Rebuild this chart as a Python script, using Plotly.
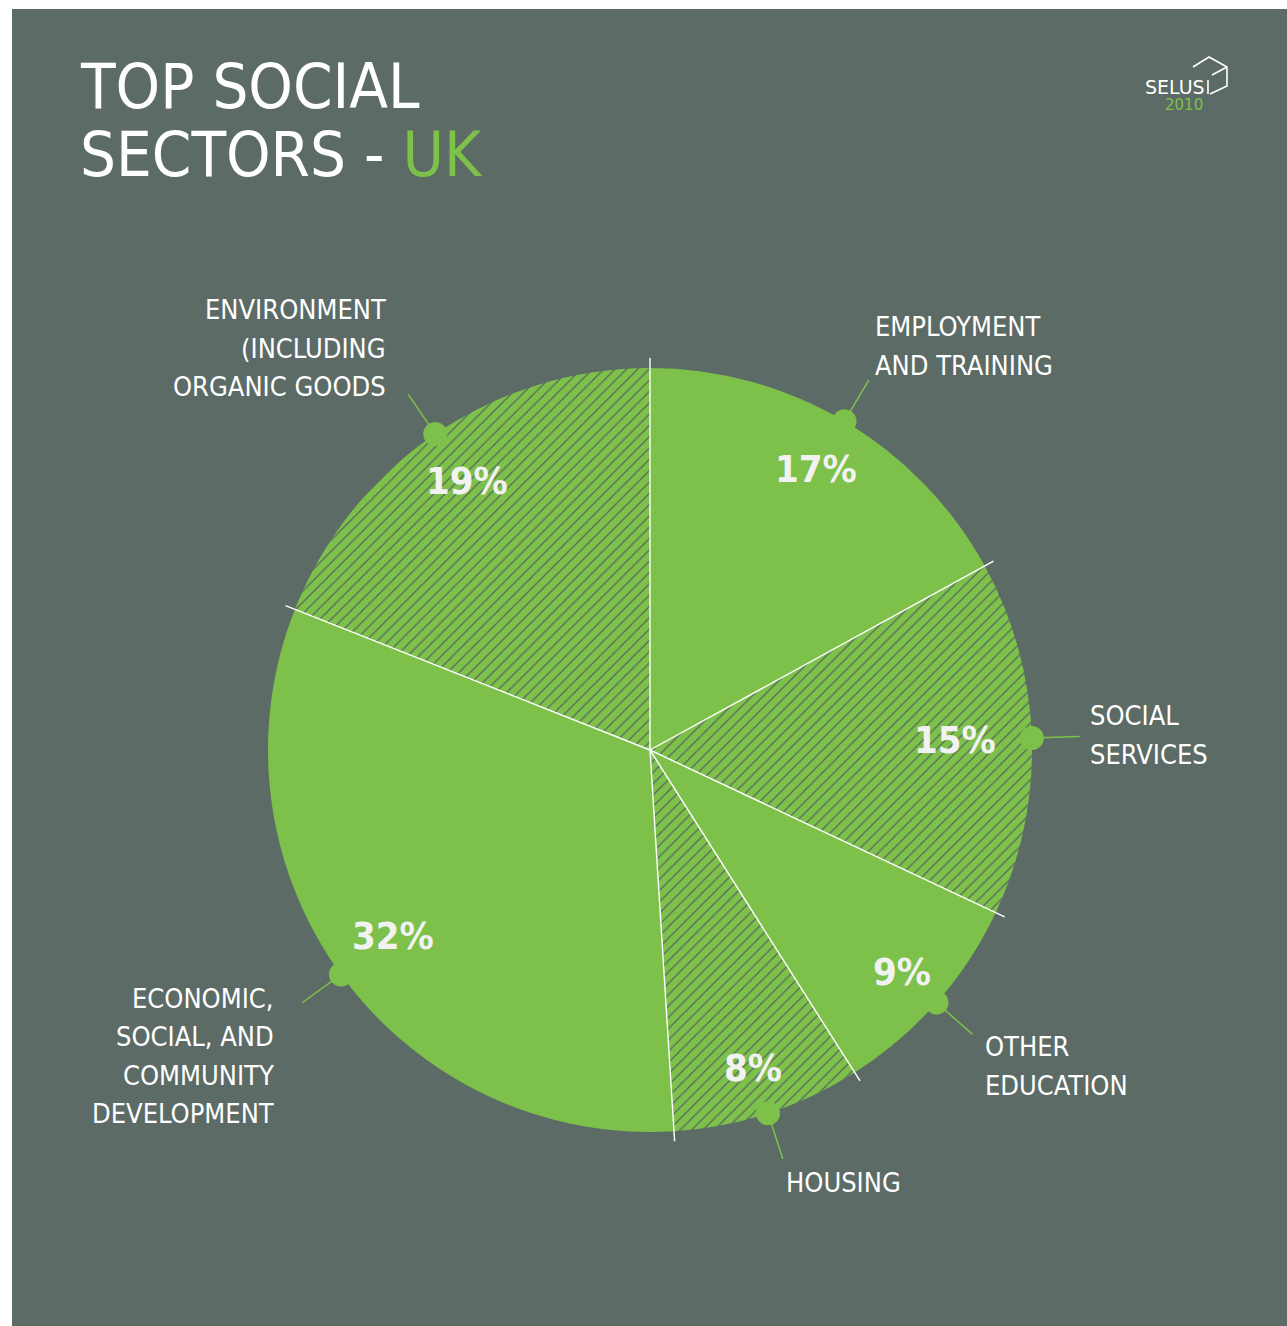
import math
import plotly.graph_objects as go

# Sector shares (%), clockwise from 12 o'clock
sectors = [
    "EMPLOYMENT<br>AND TRAINING",
    "SOCIAL<br>SERVICES",
    "OTHER<br>EDUCATION",
    "HOUSING",
    "ECONOMIC,<br>SOCIAL, AND<br>COMMUNITY<br>DEVELOPMENT",
    "ENVIRONMENT<br>(INCLUDING<br>ORGANIC GOODS",
]
shares = [17, 15, 9, 8, 32, 19]
hatched = [False, True, False, True, False, True]

W, H = 1287, 1326
BG = "#5c6b66"
GREEN = "#7dc14b"
FONT = "Liberation Sans Narrow, Arial Narrow, DejaVu Sans Condensed, sans-serif"

# pie geometry in pixels
CX, CY, R = 650, 750, 382

# label placement (pixel space): x, y of block centre, side
label_pos = [
    (873, 346, "left"),
    (1088, 735, "left"),
    (983, 1066, "left"),
    (784, 1182, "left"),
    (276, 1056, "right"),
    (388, 348, "right"),
]
LINE_STEP = 38.5
# radial position of the percentage text, as fraction of R
pct_radius = [0.855, 0.80, 0.88, 0.875, 0.83, 0.85]


def polar(theta_deg, r):
    t = math.radians(theta_deg)
    return CX + r * math.sin(t), CY - r * math.cos(t)


total = sum(shares)
cum = [0]
for v in shares:
    cum.append(cum[-1] + v)
bounds = [360 * c / total for c in cum[:-1]]
mids = [360 * (cum[i] + shares[i] / 2) / total for i in range(len(shares))]

fig = go.Figure()

fig.add_trace(go.Pie(
    values=shares,
    labels=[s.replace("<br>", " ") for s in sectors],
    sort=False,
    direction="clockwise",
    rotation=0,
    textinfo="none",
    hoverinfo="label+percent",
    showlegend=False,
    domain=dict(x=[(CX - R) / W, (CX + R) / W], y=[1 - (CY + R) / H, 1 - (CY - R) / H]),
    marker=dict(
        colors=[GREEN] * len(shares),
        line=dict(width=0),
        pattern=dict(
            shape=["/" if h else "" for h in hatched],
            fgcolor="#56645f",
            bgcolor=GREEN,
            size=8,
            solidity=0.15,
        ),
    ),
))

# invisible pixel-space axes for overlays
fig.add_trace(go.Scatter(x=[0, W], y=[0, H], mode="markers",
                         marker=dict(opacity=0), hoverinfo="skip", showlegend=False))

shapes = []
# panel background
shapes.append(dict(type="rect", xref="x", yref="y", x0=12, x1=W + 5, y0=9, y1=H + 5,
                   fillcolor=BG, line=dict(width=0), layer="below"))

# white separators between slices
for b in bounds:
    x1, y1 = polar(b, R + 10)
    shapes.append(dict(type="line", xref="x", yref="y", x0=CX, y0=CY, x1=x1, y1=y1,
                       line=dict(color="white", width=1.4), layer="above"))

# leader lines and edge dots
for m in mids:
    x0, y0 = polar(m, R)
    x1, y1 = polar(m, R + 48)
    shapes.append(dict(type="line", xref="x", yref="y", x0=x0, y0=y0, x1=x1, y1=y1,
                       line=dict(color=GREEN, width=1.5), layer="above"))
    shapes.append(dict(type="circle", xref="x", yref="y", x0=x0 - 12, x1=x0 + 12,
                       y0=y0 - 12, y1=y0 + 12, fillcolor=GREEN, line=dict(width=0),
                       layer="above"))

# logo cube outline
cube = "M 1193 67 L 1209 57 L 1227 67 L 1227 86 L 1210 94 M 1208 80 L 1208 94 M 1227 67 L 1212 75"
shapes.append(dict(type="path", xref="x", yref="y", path=cube,
                   line=dict(color="white", width=1.6), layer="above"))

annotations = []
# title
annotations.append(dict(x=78, y=86, xref="x", yref="y", text="TOP SOCIAL", showarrow=False,
                        xanchor="left", yanchor="middle",
                        font=dict(family=FONT, size=63, color="white")))
annotations.append(dict(x=78, y=154, xref="x", yref="y",
                        text=f"SECTORS - <span style='color:{GREEN}'>UK</span>",
                        showarrow=False, xanchor="left", yanchor="middle",
                        font=dict(family=FONT, size=63, color="white")))
# logo
annotations.append(dict(x=1143, y=87, xref="x", yref="y", text="SELUS", showarrow=False,
                        xanchor="left", yanchor="middle",
                        font=dict(family="DejaVu Sans", size=19, color="white")))
annotations.append(dict(x=1205, y=105, xref="x", yref="y", text="2010", showarrow=False,
                        xanchor="right", yanchor="middle",
                        font=dict(family="DejaVu Sans", size=15, color=GREEN)))

# sector names, one annotation per line for tight leading
for name, (lx, ly, side) in zip(sectors, label_pos):
    lines = name.split("<br>")
    n = len(lines)
    for i, ln in enumerate(lines):
        annotations.append(dict(x=lx, y=ly + (i - (n - 1) / 2) * LINE_STEP,
                                xref="x", yref="y", text=ln, showarrow=False,
                                xanchor=side, yanchor="middle", align=side,
                                font=dict(family=FONT, size=27, color="white")))

# percentages inside slices
for v, m, f in zip(shares, mids, pct_radius):
    px, py = polar(m, R * f)
    annotations.append(dict(x=px, y=py, xref="x", yref="y", text=f"<b>{v}%</b>",
                            showarrow=False, xanchor="center", yanchor="middle",
                            font=dict(family=FONT, size=38, color="#f2f2f2")))

fig.update_layout(
    width=W, height=H,
    margin=dict(l=0, r=0, t=0, b=0),
    paper_bgcolor="white",
    plot_bgcolor="rgba(0,0,0,0)",
    xaxis=dict(range=[0, W], visible=False, domain=[0, 1], fixedrange=True),
    yaxis=dict(range=[H, 0], visible=False, domain=[0, 1], fixedrange=True),
    shapes=shapes,
    annotations=annotations,
)

fig.write_html("out.html")
